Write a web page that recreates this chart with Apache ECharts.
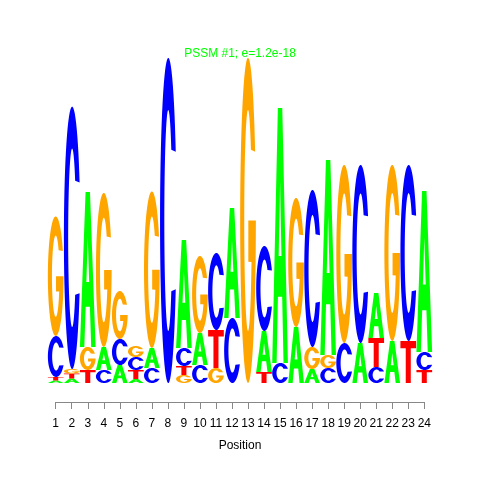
<!DOCTYPE html>
<html>
<head>
<meta charset="utf-8">
<script src="https://cdn.jsdelivr.net/npm/echarts@6/dist/echarts.min.js"></script>
<style>
html,body{margin:0;padding:0;background:#fff;}
#chart{width:480px;height:480px;}
</style>
</head>
<body>
<div id="chart"></div>
<script>
// ---- data ----
const positions = [1,2,3,4,5,6,7,8,9,10,11,12,13,14,15,16,17,18,19,20,21,22,23,24];
// letters in each column, bottom to top
const stackLetters = ['ATCG','ATGC','TGA','CAG','ACG','ATCG','CAG','C','GTCA','CAG','GTC','CA',
                      'G','TAC','CA','AG','AGC','CGA','CG','AC','CTA','AG','TC','TCA'];
// letter heights, same order
const stackHeights = [
  [0.025,0.035,0.41,1.195],
  [0.045,0.05,0.045,2.623],
  [0.13,0.23,1.55],
  [0.13,0.23,1.54],
  [0.18,0.26,0.48],
  [0.04,0.09,0.13,0.11],
  [0.15,0.20,1.565],
  [3.25],
  [0.08,0.09,0.18,1.08],
  [0.18,0.32,0.77],
  [0.15,0.38,0.77],
  [0.65,1.10],
  [3.25],
  [0.11,0.41,0.85],
  [0.20,2.55],
  [0.56,1.29],
  [0.14,0.22,1.57],
  [0.15,0.13,1.95],
  [0.40,1.78],
  [0.40,1.78],
  [0.16,0.29,0.45],
  [0.42,1.76],
  [0.42,1.76],
  [0.13,0.18,1.61]
];
const tickLabels = positions.map(String);
const titleText = 'PSSM #1; e=1.2e-18';
const axisName = 'Position';

// ---- glyphs (unit box 0..100) ----
const LETTERS = ['A','C','G','T'];
const COLORS = ['#00FF00','#0000FF','#FFA500','#FF0000'];
function arc(cx, cy, rx, ry, a0, a1, n) {
  const pts = [];
  for (let i = 0; i <= n; i++) {
    const t = (a0 + (a1 - a0) * i / n) * Math.PI / 180;
    pts.push([cx + rx * Math.cos(t), cy + ry * Math.sin(t)]);
  }
  return pts;
}
function poly(pts) {
  return 'M' + pts.map(p => p[0].toFixed(2) + ' ' + p[1].toFixed(2)).join(' L') + ' Z';
}
const RXI = 24, RYI = 34;
const glyphA = poly([[0,100],[36,0],[64,0],[100,100],[72,100],[63.5,74],[36.5,74],[28,100]]) +
               ' ' + poly([[41,58],[59,58],[50,29]]);
const glyphC = poly([].concat(arc(50,50,50,50,25,335,60), arc(50,50,RXI,RYI,320.3,39.7,50)));
const glyphG = poly([].concat(arc(50,50,50,50,0,335,64), arc(50,50,RXI,RYI,320.3,22,50), [[52,62.7],[52,50]]));
const glyphT = poly([[0,0],[100,0],[100,17],[66,17],[66,100],[34,100],[34,17],[0,17]]);
const GLYPHS = [glyphA, glyphC, glyphG, glyphT];

// build stacked letter items [x, y0, y1, letterIndex]
const items = [];
positions.forEach((p, i) => {
  let y = 0;
  const L = stackLetters[i], H = stackHeights[i];
  for (let k = 0; k < L.length; k++) {
    items.push([p, y, y + H[k], LETTERS.indexOf(L[k])]);
    y += H[k];
  }
});

const chart = echarts.init(document.getElementById('chart'), null, {renderer: 'canvas'});
const font = 'Liberation Sans, Arial, Helvetica, sans-serif';
chart.setOption({
  animation: false,
  backgroundColor: '#ffffff',
  title: {
    text: titleText, left: 'center', top: 43,
    textStyle: {color: '#00FF00', fontSize: 12, fontWeight: 'normal', fontFamily: font}
  },
  grid: [
    {left: 47.7, right: 47.7, top: 58, bottom: 97},
    {left: 55.7, right: 55.7, top: 300, bottom: 78}
  ],
  xAxis: [
    {type: 'value', gridIndex: 0, min: 0.5, max: 24.5, show: false},
    {type: 'value', gridIndex: 1, min: 1, max: 24, interval: 1,
     axisLine: {show: true, onZero: false, lineStyle: {color: '#888', width: 1}},
     axisTick: {show: true, length: 7, lineStyle: {color: '#888'}},
     axisLabel: {color: '#000', fontSize: 12, fontFamily: font, margin: 16,
                 formatter: v => tickLabels[v - 1] || ''},
     splitLine: {show: false},
     name: axisName, nameLocation: 'middle', nameGap: 38,
     nameTextStyle: {color: '#000', fontSize: 12, fontFamily: font}}
  ],
  yAxis: [
    {type: 'value', gridIndex: 0, min: 0, max: 3.25, show: false},
    {type: 'value', gridIndex: 1, min: 0, max: 1, show: false}
  ],
  series: [{
    type: 'custom',
    xAxisIndex: 0, yAxisIndex: 0,
    data: items,
    renderItem: function (params, api) {
      const x = api.value(0), y0 = api.value(1), y1 = api.value(2), li = api.value(3);
      const p0 = api.coord([x - 0.49, y1]);
      const p1 = api.coord([x + 0.49, y0]);
      return {
        type: 'path',
        shape: {pathData: GLYPHS[li], layout: 'cover',
                x: p0[0], y: p0[1], width: p1[0] - p0[0], height: p1[1] - p0[1]},
        style: {fill: COLORS[li]}
      };
    }
  }]
});
</script>
</body>
</html>
